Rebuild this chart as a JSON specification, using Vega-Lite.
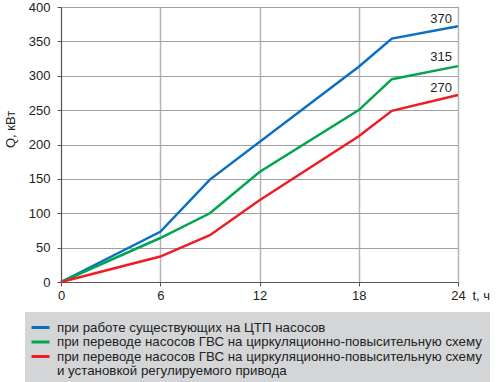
{
  "$schema": "https://vega.github.io/schema/vega-lite/v6.json",
  "width": 397,
  "height": 275,
  "autosize": "none",
  "padding": {"left": 61, "top": 7, "right": 43, "bottom": 100},
  "background": "white",
  "config": {
    "font": "Liberation Sans",
    "view": {"stroke": "#555", "strokeWidth": 1}
  },
  "datasets": {
    "lines": [
      {"t": 0, "q": 0, "s": "при работе существующих на ЦТП насосов"},
      {"t": 6, "q": 73, "s": "при работе существующих на ЦТП насосов"},
      {"t": 9, "q": 149, "s": "при работе существующих на ЦТП насосов"},
      {"t": 18, "q": 313, "s": "при работе существующих на ЦТП насосов"},
      {"t": 20, "q": 354, "s": "при работе существующих на ЦТП насосов"},
      {"t": 24, "q": 372, "s": "при работе существующих на ЦТП насосов"},
      {"t": 0, "q": 0, "s": "при переводе насосов ГВС на циркуляционно-повысительную схему"},
      {"t": 6, "q": 64, "s": "при переводе насосов ГВС на циркуляционно-повысительную схему"},
      {"t": 9, "q": 100, "s": "при переводе насосов ГВС на циркуляционно-повысительную схему"},
      {"t": 12, "q": 160, "s": "при переводе насосов ГВС на циркуляционно-повысительную схему"},
      {"t": 18, "q": 250, "s": "при переводе насосов ГВС на циркуляционно-повысительную схему"},
      {"t": 20, "q": 295, "s": "при переводе насосов ГВС на циркуляционно-повысительную схему"},
      {"t": 24, "q": 314, "s": "при переводе насосов ГВС на циркуляционно-повысительную схему"},
      {"t": 0, "q": 0, "s": "при переводе насосов ГВС на циркуляционно-повысительную схему "},
      {"t": 6, "q": 37, "s": "при переводе насосов ГВС на циркуляционно-повысительную схему "},
      {"t": 9, "q": 68, "s": "при переводе насосов ГВС на циркуляционно-повысительную схему "},
      {"t": 12, "q": 119, "s": "при переводе насосов ГВС на циркуляционно-повысительную схему "},
      {"t": 18, "q": 212, "s": "при переводе насосов ГВС на циркуляционно-повысительную схему "},
      {"t": 20, "q": 249, "s": "при переводе насосов ГВС на циркуляционно-повысительную схему "},
      {"t": 24, "q": 272, "s": "при переводе насосов ГВС на циркуляционно-повысительную схему "}
    ],
    "labels": [
      {"t": 24, "q": 370, "label": "370"},
      {"t": 24, "q": 315, "label": "315"},
      {"t": 24, "q": 270, "label": "270"}
    ]
  },
  "layer": [
    {
      "data": {"name": "lines"},
      "mark": {"type": "line", "strokeWidth": 2.5},
      "encoding": {
        "x": {
          "field": "t", "type": "quantitative",
          "scale": {"domain": [0, 24], "nice": false},
          "axis": {
            "values": [0, 6, 12, 18, 24],
            "title": "t, ч",
            "titleFontWeight": "normal",
            "titleFontSize": 13,
            "titleAlign": "left",
            "titleBaseline": "middle",
            "titleX": 411,
            "titleY": 13,
            "labelFontSize": 13,
            "labelColor": "#222",
            "titleColor": "#222",
            "labelPadding": 3,
            "tickSize": 4,
            "tickColor": "#555",
            "domainColor": "#555",
            "gridColor": "#b5b5b5",
            "gridWidth": 1.5,
            "labelFlush": false,
            "labelOverlap": false
          }
        },
        "y": {
          "field": "q", "type": "quantitative",
          "scale": {"domain": [0, 400], "nice": false},
          "axis": {
            "values": [0, 50, 100, 150, 200, 250, 300, 350, 400],
            "tickCount": 9,
            "title": "Q, кВт",
            "titleFontWeight": "normal",
            "titleFontSize": 13,
            "titleBaseline": "middle",
            "titleX": -51,
            "titleY": 122,
            "labelFontSize": 13,
            "labelColor": "#222",
            "titleColor": "#222",
            "labelPadding": 7,
            "tickSize": 4,
            "tickColor": "#555",
            "domainColor": "#555",
            "gridColor": "#a0a0a0",
            "gridWidth": 1.2,
            "labelOverlap": false,
            "labelFlush": false
          }
        },
        "color": {
          "field": "s", "type": "nominal",
          "scale": {
            "domain": [
              "при работе существующих на ЦТП насосов",
              "при переводе насосов ГВС на циркуляционно-повысительную схему",
              "при переводе насосов ГВС на циркуляционно-повысительную схему ",
              "и установкой регулируемого привода"
            ],
            "range": ["#0a6fc2", "#00a550", "#ee1c25", "transparent"]
          },
          "legend": {
            "title": null,
            "orient": "none",
            "legendX": -36,
            "legendY": 305,
            "fillColor": "#d4d5d7",
            "padding": 8,
            "symbolType": "M-1.5,0L1.5,0",
            "symbolSize": 144,
            "symbolStrokeWidth": 3,
            "labelFontSize": 13.3,
            "labelColor": "#222",
            "labelOffset": 9,
            "labelLimit": 500,
            "rowPadding": 0.5
          }
        }
      }
    },
    {
      "data": {"name": "labels"},
      "mark": {"type": "text", "align": "right", "baseline": "alphabetic", "dx": -6, "dy": -4.5, "fontSize": 13, "color": "#222"},
      "encoding": {
        "x": {"field": "t", "type": "quantitative"},
        "y": {
          "field": "q", "type": "quantitative",
          "axis": {
            "values": [0, 50, 100, 150, 200, 250, 300, 350, 400],
            "tickCount": 9,
            "labelOverlap": false
          }
        },
        "text": {"field": "label"}
      }
    }
  ]
}
